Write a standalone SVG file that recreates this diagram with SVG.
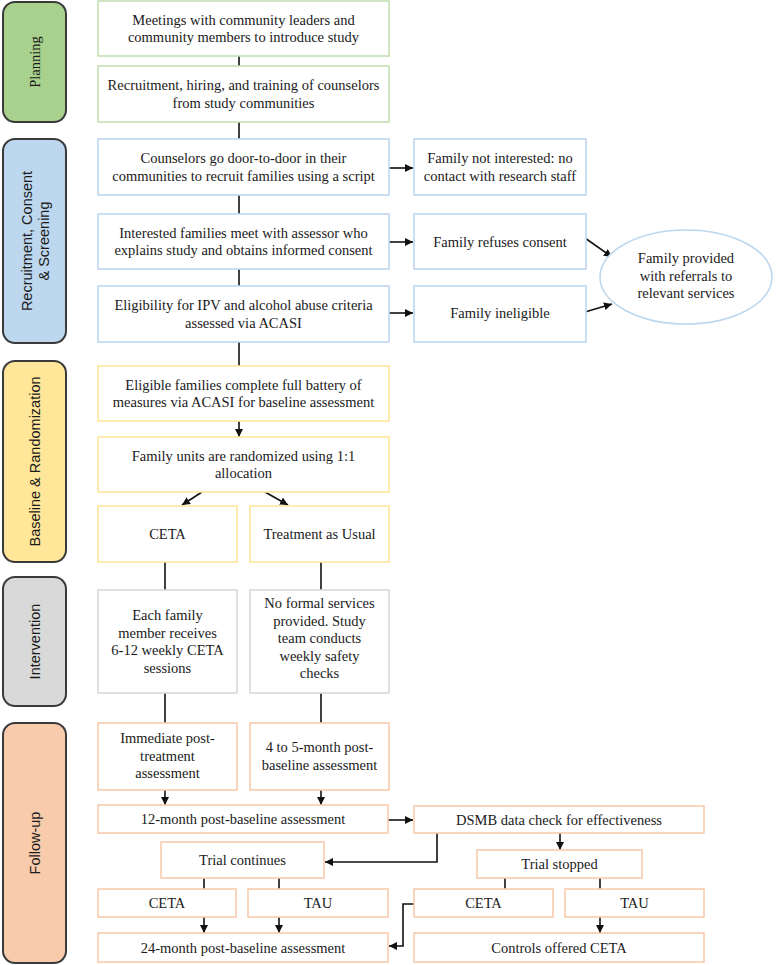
<svg xmlns="http://www.w3.org/2000/svg" width="777" height="965" viewBox="0 0 777 965">
<style>
.bg{fill:#ffffff}
.ph{stroke:#3a3a3a;stroke-width:2}
.b{fill:#ffffff;stroke-width:1.6}
.g{stroke:#c5e0b4}
.bl{stroke:#bdd7ee}
.y{stroke:#ffe699}
.gr{stroke:#d9d9d9}
.s{stroke:#f8cbad}
.t{font-family:"Liberation Serif","Times New Roman",serif;font-size:14.5px;fill:#1a1a1a;text-anchor:middle}
.lt{font-family:"Liberation Sans",Arial,sans-serif;font-size:14.5px;fill:#1a1a1a;text-anchor:middle}
.c{fill:none;stroke:#111;stroke-width:1.6}
.a{marker-end:url(#ah)}
</style>
<defs>
<marker id="ah" viewBox="0 0 10 10" refX="10" refY="5" markerUnits="userSpaceOnUse" markerWidth="8" markerHeight="8" orient="auto">
<path d="M0,0 L10,5 L0,10 z" fill="#111"/>
</marker>
</defs>
<rect class="bg" x="0" y="0" width="777" height="965"/>

<!-- phase labels -->
<g id="phase-planning">
<rect class="ph" x="3" y="2" width="63" height="120" rx="12" fill="#a9d18e"/>
<text class="t" transform="translate(34.5,62) rotate(-90)" y="5">Planning</text>
</g>
<g id="phase-recruitment">
<rect class="ph" x="3" y="139" width="63" height="204" rx="12" fill="#bdd7ee"/>
<text class="lt" transform="translate(34.5,241) rotate(-90)"><tspan x="0" y="-2.5">Recruitment, Consent</tspan><tspan x="0" y="14.5">&amp; Screening</tspan></text>
</g>
<g id="phase-baseline">
<rect class="ph" x="3" y="361" width="63" height="201" rx="12" fill="#ffe699"/>
<text class="lt" transform="translate(34.5,461.5) rotate(-90)" y="5">Baseline &amp; Randomization</text>
</g>
<g id="phase-intervention">
<rect class="ph" x="3" y="577" width="63" height="129" rx="12" fill="#d9d9d9"/>
<text class="lt" transform="translate(34.5,641.5) rotate(-90)" y="5">Intervention</text>
</g>
<g id="phase-followup">
<rect class="ph" x="3" y="723" width="63" height="240" rx="12" fill="#f8cbad"/>
<text class="lt" transform="translate(34.5,843) rotate(-90)" y="5">Follow-up</text>
</g>

<!-- connectors -->
<g id="connectors">
<line class="c" x1="239" y1="56" x2="239" y2="66"/>
<line class="c" x1="239" y1="122" x2="239" y2="139"/>
<line class="c" x1="239" y1="195" x2="239" y2="214"/>
<line class="c" x1="239" y1="269" x2="239" y2="286"/>
<line class="c" x1="239" y1="342" x2="239" y2="366"/>
<line class="c a" x1="239" y1="421" x2="239" y2="437"/>
<line class="c a" x1="389" y1="168" x2="413" y2="168"/>
<line class="c a" x1="389" y1="242" x2="413" y2="242"/>
<line class="c a" x1="389" y1="313" x2="413" y2="313"/>
<line class="c a" x1="585" y1="238" x2="612" y2="257"/>
<line class="c a" x1="585" y1="312" x2="612" y2="304"/>
<line class="c a" x1="202" y1="492" x2="182" y2="505"/>
<line class="c a" x1="265" y1="492" x2="288" y2="505"/>
<line class="c" x1="165" y1="562" x2="165" y2="590"/>
<line class="c" x1="321" y1="562" x2="321" y2="590"/>
<line class="c" x1="165" y1="693" x2="165" y2="723"/>
<line class="c" x1="321" y1="693" x2="321" y2="723"/>
<line class="c a" x1="165" y1="790" x2="165" y2="805"/>
<line class="c a" x1="321" y1="790" x2="321" y2="805"/>
<line class="c a" x1="388" y1="820" x2="413" y2="820"/>
<polyline class="c a" points="437,833 437,862 325,862"/>
<line class="c a" x1="560" y1="833" x2="560" y2="850"/>
<line class="c" x1="204" y1="878" x2="204" y2="889"/>
<line class="c" x1="279" y1="878" x2="279" y2="889"/>
<line class="c a" x1="204" y1="917" x2="204" y2="933"/>
<line class="c a" x1="279" y1="917" x2="279" y2="933"/>
<line class="c" x1="505" y1="878" x2="505" y2="889"/>
<line class="c" x1="600" y1="878" x2="600" y2="889"/>
<line class="c a" x1="600" y1="917" x2="600" y2="933"/>
<polyline class="c a" points="414,904 403,904 403,946 389,946"/>
</g>

<!-- planning -->
<g id="n-meetings">
<rect class="b g" x="98" y="1" width="291" height="55"/>
<text class="t"><tspan x="243.5" y="24.5">Meetings with community leaders and</tspan><tspan x="243.5" y="42">community members to introduce study</tspan></text>
</g>
<g id="n-hiring">
<rect class="b g" x="98" y="66" width="291" height="56"/>
<text class="t"><tspan x="243.5" y="90">Recruitment, hiring, and training of counselors</tspan><tspan x="243.5" y="107.5">from study communities</tspan></text>
</g>

<!-- recruitment -->
<g id="n-door">
<rect class="b bl" x="98" y="139" width="291" height="56"/>
<text class="t"><tspan x="243.5" y="163">Counselors go door-to-door in their</tspan><tspan x="243.5" y="180.5">communities to recruit families using a script</tspan></text>
</g>
<g id="n-consent">
<rect class="b bl" x="98" y="214" width="291" height="55"/>
<text class="t"><tspan x="243.5" y="237.5">Interested families meet with assessor who</tspan><tspan x="243.5" y="255">explains study and obtains informed consent</tspan></text>
</g>
<g id="n-eligibility">
<rect class="b bl" x="98" y="286" width="291" height="56"/>
<text class="t"><tspan x="243.5" y="310">Eligibility for IPV and alcohol abuse criteria</tspan><tspan x="243.5" y="327.5">assessed via ACASI</tspan></text>
</g>
<g id="n-notinterested">
<rect class="b bl" x="414" y="139" width="172" height="56"/>
<text class="t"><tspan x="500" y="163">Family not interested: no</tspan><tspan x="500" y="180.5">contact with research staff</tspan></text>
</g>
<g id="n-refuses">
<rect class="b bl" x="414" y="214" width="172" height="55"/>
<text class="t" x="500" y="246.5">Family refuses consent</text>
</g>
<g id="n-ineligible">
<rect class="b bl" x="414" y="286" width="172" height="56"/>
<text class="t" x="500" y="318">Family ineligible</text>
</g>
<g id="n-referrals">
<ellipse cx="686" cy="277" rx="86" ry="47" fill="#ffffff" stroke="#bdd7ee" stroke-width="1.6"/>
<text class="t"><tspan x="686" y="263">Family provided</tspan><tspan x="686" y="280.5">with referrals to</tspan><tspan x="686" y="298">relevant services</tspan></text>
</g>

<!-- baseline -->
<g id="n-battery">
<rect class="b y" x="98" y="366" width="291" height="55"/>
<text class="t"><tspan x="243.5" y="389.5">Eligible families complete full battery of</tspan><tspan x="243.5" y="407">measures via ACASI for baseline assessment</tspan></text>
</g>
<g id="n-randomized">
<rect class="b y" x="98" y="437" width="291" height="55"/>
<text class="t"><tspan x="243.5" y="460.5">Family units are randomized using 1:1</tspan><tspan x="243.5" y="478">allocation</tspan></text>
</g>
<g id="n-ceta">
<rect class="b y" x="98" y="506" width="139" height="56"/>
<text class="t" x="167.5" y="539">CETA</text>
</g>
<g id="n-tau">
<rect class="b y" x="250" y="506" width="139" height="56"/>
<text class="t" x="319.5" y="539">Treatment as Usual</text>
</g>

<!-- intervention -->
<g id="n-ceta-sessions">
<rect class="b gr" x="98" y="590" width="139" height="103"/>
<text class="t"><tspan x="167.5" y="620">Each family</tspan><tspan x="167.5" y="637.5">member receives</tspan><tspan x="167.5" y="655">6-12 weekly CETA</tspan><tspan x="167.5" y="672.5">sessions</tspan></text>
</g>
<g id="n-tau-checks">
<rect class="b gr" x="250" y="590" width="139" height="103"/>
<text class="t"><tspan x="319.5" y="608">No formal services</tspan><tspan x="319.5" y="625.5">provided. Study</tspan><tspan x="319.5" y="643">team conducts</tspan><tspan x="319.5" y="660.5">weekly safety</tspan><tspan x="319.5" y="678">checks</tspan></text>
</g>

<!-- follow-up -->
<g id="n-immediate">
<rect class="b s" x="98" y="723" width="139" height="67"/>
<text class="t"><tspan x="167.5" y="743">Immediate post-</tspan><tspan x="167.5" y="760.5">treatment</tspan><tspan x="167.5" y="778">assessment</tspan></text>
</g>
<g id="n-4to5">
<rect class="b s" x="250" y="723" width="139" height="67"/>
<text class="t"><tspan x="319.5" y="752">4 to 5-month post-</tspan><tspan x="319.5" y="769.5">baseline assessment</tspan></text>
</g>
<g id="n-12month">
<rect class="b s" x="98" y="805" width="290" height="28"/>
<text class="t" x="243" y="824">12-month post-baseline assessment</text>
</g>
<g id="n-dsmb">
<rect class="b s" x="414" y="806" width="290" height="27"/>
<text class="t" x="559" y="824.5">DSMB data check for effectiveness</text>
</g>
<g id="n-continues">
<rect class="b s" x="161" y="842" width="163" height="36"/>
<text class="t" x="242.5" y="865">Trial continues</text>
</g>
<g id="n-stopped">
<rect class="b s" x="477" y="850" width="165" height="28"/>
<text class="t" x="559.5" y="868.5">Trial stopped</text>
</g>
<g id="n-ceta2">
<rect class="b s" x="98" y="889" width="138" height="28"/>
<text class="t" x="167" y="908">CETA</text>
</g>
<g id="n-tau2">
<rect class="b s" x="248" y="889" width="140" height="28"/>
<text class="t" x="318" y="908">TAU</text>
</g>
<g id="n-ceta3">
<rect class="b s" x="414" y="889" width="139" height="28"/>
<text class="t" x="483.5" y="908">CETA</text>
</g>
<g id="n-tau3">
<rect class="b s" x="565" y="889" width="139" height="28"/>
<text class="t" x="634.5" y="908">TAU</text>
</g>
<g id="n-24month">
<rect class="b s" x="98" y="933" width="290" height="29"/>
<text class="t" x="243" y="952.5">24-month post-baseline assessment</text>
</g>
<g id="n-controls">
<rect class="b s" x="414" y="933" width="290" height="29"/>
<text class="t" x="559" y="952.5">Controls offered CETA</text>
</g>
</svg>
